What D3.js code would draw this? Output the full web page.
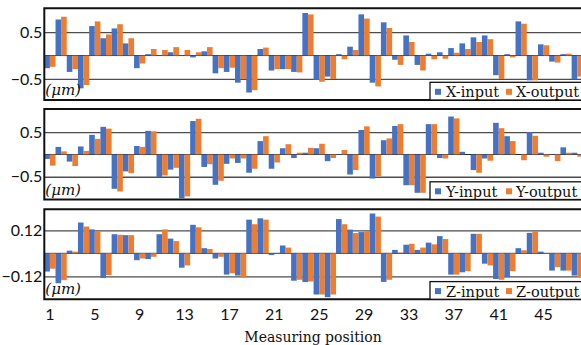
<!DOCTYPE html>
<html>
<head>
<meta charset="utf-8">
<script src="https://cdn.jsdelivr.net/npm/d3@7"></script>
<style>
  html, body { margin: 0; padding: 0; background: #fff; overflow: hidden; }
  svg { display: block; }
</style>
</head>
<body>
<div id="chart"></div>
<script>
// measuring positions 1..48 (the figure is cropped on the right)
const positions = d3.range(1, 49);
const tickPositions = [1, 5, 9, 13, 17, 21, 25, 29, 33, 37, 41, 45];

const xInput = [-0.27, 0.77, -0.35, -0.70, 0.63, 0.37, 0.58, 0.26, -0.27, 0.03, 0.01, 0.07, 0.01, -0.04, 0.09, -0.38,
  -0.35, -0.58, -0.79, 0.14, -0.32, -0.29, -0.35, 0.91, -0.52, -0.45, 0.03, 0.19, 0.88, -0.58, 0.71, -0.09,
  0.43, -0.20, 0.04, 0.07, 0.16, 0.26, 0.39, 0.43, -0.42, 0.03, 0.73, -0.53, 0.24, -0.13, 0.03, -0.51];
const xOutput = [-0.24, 0.83, -0.29, -0.63, 0.73, 0.45, 0.67, 0.37, -0.17, 0.14, 0.12, 0.18, 0.12, 0.07, 0.18, -0.27,
  -0.26, -0.50, -0.74, 0.17, -0.29, -0.29, -0.36, 0.88, -0.56, -0.50, -0.08, 0.12, 0.79, -0.66, 0.59, -0.20,
  0.29, -0.32, -0.08, -0.07, 0.06, 0.14, 0.29, 0.35, -0.50, -0.04, 0.68, -0.53, 0.22, -0.15, 0.04, -0.45];

const yInput = [-0.10, 0.17, -0.16, 0.18, 0.44, 0.62, -0.77, -0.38, 0.19, 0.53, -0.51, -0.34, -0.98, 0.75, -0.28, -0.68,
  -0.21, -0.19, -0.41, 0.30, -0.32, 0.14, -0.08, 0.04, 0.14, -0.15, 0.01, -0.45, 0.55, -0.54, 0.32, 0.64,
  -0.69, -0.86, 0.68, -0.08, 0.85, 0.06, -0.35, -0.09, 0.71, 0.41, 0.0, 0.50, 0.04, 0.01, 0.16, 0.04];
const yOutput = [-0.25, 0.07, -0.26, 0.08, 0.35, 0.58, -0.83, -0.42, 0.17, 0.52, -0.47, -0.30, -0.94, 0.80, -0.22, -0.59,
  -0.09, -0.09, -0.32, 0.41, -0.18, 0.23, 0.04, 0.15, 0.24, -0.08, 0.10, -0.35, 0.63, -0.49, 0.36, 0.68,
  -0.69, -0.86, 0.68, -0.09, 0.81, 0.0, -0.41, -0.14, 0.59, 0.30, -0.13, 0.42, -0.05, -0.15, 0.04, -0.05];

const zInput = [-0.095, -0.156, 0.014, 0.161, 0.125, -0.129, 0.100, 0.095, -0.036, -0.030, 0.100, 0.077, -0.075, 0.149, 0.027, -0.027,
  -0.111, -0.116, 0.176, 0.183, -0.009, 0.041, -0.143, -0.150, -0.215, -0.229, 0.179, 0.124, 0.111, 0.208, -0.149, 0.018,
  0.045, 0.018, 0.056, 0.090, -0.111, -0.099, 0.102, -0.054, -0.134, -0.125, 0.027, 0.107, 0.009, -0.090, -0.090, -0.116];
const zOutput = [-0.080, -0.140, 0.009, 0.140, 0.116, -0.113, 0.097, 0.095, -0.027, -0.018, 0.125, 0.064, -0.063, 0.136, 0.023, -0.018,
  -0.104, -0.125, 0.152, 0.176, 0.002, 0.030, -0.138, -0.147, -0.215, -0.215, 0.152, 0.106, 0.115, 0.192, -0.138, 0.004,
  0.050, 0.030, 0.047, 0.075, -0.111, -0.093, 0.102, -0.063, -0.138, -0.093, 0.016, 0.116, 0.002, -0.072, -0.090, -0.125];

const xTicks = [0.5, -0.5];
const yTicks = [0.5, -0.5];
const zTicks = [0.12, -0.12];

const colors = { input: "#4472C4", output: "#ED7D31" };

const width = 581, height = 345;
const left = 44.3, band = 11.22;

const panels = [
  { axis: "X", input: xInput, output: xOutput, ticks: xTicks, fmt: d3.format(".1f"), domain: [-0.95, 1.01], top: 8.3, bottom: 100 },
  { axis: "Y", input: yInput, output: yOutput, ticks: yTicks, fmt: d3.format(".1f"), domain: [-1.01, 1.02], top: 109, bottom: 199.5 },
  { axis: "Z", input: zInput, output: zOutput, ticks: zTicks, fmt: d3.format(".2f"), domain: [-0.24, 0.23], top: 209.3, bottom: 299.3 }
];

const svg = d3.select("#chart")
  .append("svg")
  .attr("width", width)
  .attr("height", height);

const x = d3.scaleBand()
  .domain(positions)
  .range([left, left + positions.length * band])
  .padding(0);

const xInner = d3.scaleBand()
  .domain(["input", "output"])
  .range([0, x.bandwidth()])
  .padding(0);

const right = left + positions.length * band;

panels.forEach((p, pi) => {
  const y = d3.scaleLinear().domain(p.domain).range([p.bottom, p.top]);
  const g = svg.append("g");

  // gridlines + tick labels
  const ax = g.append("g")
    .attr("transform", "translate(" + left + ",0)")
    .call(d3.axisLeft(y).tickValues(p.ticks).tickFormat(p.fmt)
      .tickSizeInner(-(right - left)).tickSizeOuter(0).tickPadding(2));
  ax.select(".domain").remove();
  ax.selectAll(".tick line").attr("stroke", "#4d4d4d").attr("stroke-width", 1.3);
  ax.selectAll(".tick text")
    .attr("fill", "#111")
    .style("font-family", "Lato, 'Noto Sans', sans-serif")
    .style("font-size", "16px");

  // zero line
  g.append("line")
    .attr("x1", left).attr("x2", right)
    .attr("y1", y(0)).attr("y2", y(0))
    .attr("stroke", "#222").attr("stroke-width", 1);

  // bars
  const rows = positions.map((pos, i) => ({ pos: pos, input: p.input[i], output: p.output[i] }));
  const grp = g.append("g").selectAll("g")
    .data(rows)
    .enter()
    .append("g")
    .attr("transform", d => "translate(" + x(d.pos) + ",0)");
  grp.selectAll("rect")
    .data(d => ["input", "output"].map(k => ({ key: k, value: d[k] })))
    .enter()
    .append("rect")
    .attr("x", d => xInner(d.key))
    .attr("width", xInner.bandwidth())
    .attr("y", d => y(Math.max(0, d.value)))
    .attr("height", d => Math.abs(y(d.value) - y(0)))
    .attr("fill", d => colors[d.key]);

  // panel frame
  g.append("path")
    .attr("d", "M" + (right + 20) + "," + p.top + "H" + left + "V" + p.bottom + "H" + (right + 20))
    .attr("fill", "none")
    .attr("stroke", "#111")
    .attr("stroke-width", 2);

  // unit label
  g.append("text")
    .attr("x", left + 1)
    .attr("y", p.bottom - 5)
    .style("font-family", "'DejaVu Serif', serif")
    .style("font-style", "italic")
    .style("font-size", "15px")
    .attr("fill", "#111")
    .text("(\u03bcm)");

  // legend
  const lg = g.append("g").attr("transform", "translate(430," + (p.bottom - 17.7) + ")");
  lg.append("rect")
    .attr("x", 0).attr("y", 0)
    .attr("width", 200).attr("height", 17.7)
    .attr("fill", "#fff")
    .attr("stroke", "#111").attr("stroke-width", 1.3);
  const items = [{ key: "input", x: 5, tx: 16 }, { key: "output", x: 76, tx: 86 }];
  items.forEach(it => {
    lg.append("rect")
      .attr("x", it.x).attr("y", 6.5)
      .attr("width", 6).attr("height", 6)
      .attr("fill", colors[it.key]);
    lg.append("text")
      .attr("x", it.tx).attr("y", 15)
      .style("font-family", "'DejaVu Serif', serif")
      .style("font-size", "14.5px")
      .attr("fill", "#111")
      .text(p.axis + "-" + it.key);
  });

  // category axis on the bottom panel only
  if (pi === panels.length - 1) {
    const xa = g.append("g")
      .attr("transform", "translate(0," + p.bottom + ")")
      .call(d3.axisBottom(x).tickValues(tickPositions).tickSize(0).tickPadding(9));
    xa.select(".domain").remove();
    xa.selectAll(".tick text")
      .attr("fill", "#111")
      .style("font-family", "Lato, 'Noto Sans', sans-serif")
      .style("font-size", "16px");
  }
});

svg.append("text")
  .attr("x", 313)
  .attr("y", 342)
  .attr("text-anchor", "middle")
  .style("font-family", "'DejaVu Serif', serif")
  .style("font-size", "14px")
  .attr("fill", "#111")
  .text("Measuring position");
</script>
</body>
</html>
